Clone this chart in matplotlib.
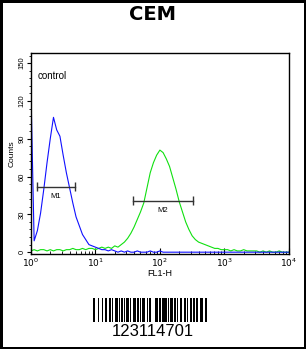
import numpy as np
import matplotlib
matplotlib.use("Agg")
import matplotlib.pyplot as plt
from matplotlib.ticker import MultipleLocator

plt.rcParams['font.family'] = ['Liberation Sans', 'DejaVu Sans']

# channel positions, log10(FL1-H), 0.05 decade steps
log_channels = np.round(np.arange(0, 4.001, 0.05), 2)

# control (blue)
control_counts = [130, 9, 17, 31, 50, 71, 90, 107, 97, 92,
                  77, 63, 51, 39, 28, 21, 14, 10, 6, 5,
                  4, 3, 2, 2, 1, 2, 1, 0, 1, 0,
                  1, 0, 0, 1, 0, 0, 0, 1, 0, 0,
                  1, 0, 0, 0, 0, 0, 0, 0, 0, 0,
                  0, 0, 0, 0, 0, 0, 0, 0, 0, 0,
                  0, 0, 0, 0, 0, 0, 0, 0, 0, 0,
                  0, 0, 0, 0, 0, 0, 0, 0, 0, 0, 0]

# CEM sample (green)
sample_counts = [1, 2, 1, 2, 2, 1, 2, 1, 2, 2,
                 1, 2, 2, 3, 2, 2, 3, 2, 3, 3,
                 2, 3, 4, 3, 4, 3, 5, 4, 6, 8,
                 11, 15, 20, 26, 32, 39, 51, 63, 71, 77,
                 81, 79, 74, 68, 59, 50, 40, 32, 24, 18,
                 13, 10, 8, 7, 6, 5, 4, 3, 3, 2,
                 2, 2, 1, 2, 1, 1, 2, 1, 1, 1,
                 1, 0, 1, 0, 1, 0, 0, 1, 0, 0, 0]

# gates
gate_names = ['M1', 'M2']
gate_lo = [1.23, 38.0]
gate_hi = [4.8, 324.0]
gate_level = [52, 41]

sample_name = 'CEM'
catalog_no = '123114701'
# Code 128-B widths: start, digits, checksum, stop
barcode_widths = ('211214' + '123221' + '223211' + '221132' + '123221' + '123221'
                  + '221231' + '312131' + '123122' + '123221' + '222221' + '2331112')

fig = plt.figure(figsize=(3.06, 3.49), dpi=100)
fig.patch.set_edgecolor('black')
fig.patch.set_linewidth(2.5)

ax = fig.add_axes([0.101, 0.272, 0.843, 0.576])
x = 10 ** log_channels
ax.plot(x, sample_counts, color='#10e010', lw=0.8)
ax.plot(x, control_counts, color='#1010ff', lw=0.8)

for name, lo, hi, lev in zip(gate_names, gate_lo, gate_hi, gate_level):
    ax.plot([lo, hi], [lev, lev], color='#333333', lw=1)
    ax.vlines([lo, hi], lev - 3.5, lev + 3.5, color='#333333', lw=1)
    ax.text(np.sqrt(lo * hi), lev - 5, name, fontsize=5.5, ha='center', va='top')

ax.text(1.28, 140, 'control', fontsize=7, va='center')

ax.set_xscale('log')
ax.set_xlim(1, 1e4)
ax.set_ylim(-1.5, 158)
ax.set_yticks([0, 30, 60, 90, 120, 150])
ax.yaxis.set_minor_locator(MultipleLocator(6))
ax.set_xticks([1, 10, 100, 1000, 10000])
ax.set_xticklabels([r'$10^{0}$', r'$10^{1}$', r'$10^{2}$', r'$10^{3}$', r'$10^{4}$'])
ax.tick_params(axis='y', labelsize=5.5, length=3, pad=1, labelrotation=90)
ax.tick_params(axis='y', which='minor', length=1.5)
for lbl in ax.get_yticklabels():
    lbl.set_va('center')
ax.tick_params(axis='x', which='major', labelsize=6.5, length=4, direction='in', pad=2)
ax.tick_params(axis='x', which='minor', length=2.5, direction='in')
ax.set_xlabel('FL1-H', fontsize=6.5, labelpad=0)
ax.set_ylabel('Counts', fontsize=6, labelpad=2)
for sp in ax.spines.values():
    sp.set_linewidth(1)

fig.text(0.5, 1 - 15 / 349, sample_name, fontsize=14, fontweight='bold',
         family='DejaVu Sans', ha='center', va='center')

# barcode
bx = fig.add_axes([93 / 306, 1 - 322 / 349, 114 / 306, 24 / 349])
widths = [int(c) for c in barcode_widths]
pos = np.concatenate([[0], np.cumsum(widths)[:-1]])
bars = [i for i in range(len(widths)) if i % 2 == 0]
bx.bar(pos[bars], 1, width=[widths[i] for i in bars], align='edge', color='black', lw=0)
bx.set_xlim(0, sum(widths))
bx.set_ylim(0, 1)
bx.axis('off')
fig.text(0.5, 1 - 331 / 349, catalog_no, fontsize=12, ha='center', va='center')

fig.savefig('out.png', dpi=100)
